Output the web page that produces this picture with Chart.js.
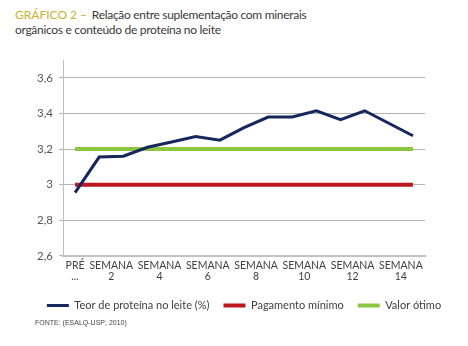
<!DOCTYPE html>
<html lang="pt">
<head>
<meta charset="utf-8">
<title>Gráfico 2</title>
<script src="https://cdn.jsdelivr.net/npm/chart.js@4/dist/chart.umd.min.js"></script>
<style>
  html, body { margin: 0; padding: 0; background: #fff; }
  body { width: 468px; height: 346px; position: relative; overflow: hidden; font-family: Lato, sans-serif; }
  #titulo { position: absolute; left: 15px; top: 8px; font-size: 12px; line-height: 14.5px; color: #3a3a3a; letter-spacing: -0.3px; }
  #titulo .num { color: #c8b22e; margin-right: 2px; letter-spacing: 0; }
  #grafico { position: absolute; left: 20px; top: 46px; }
  #fonte { position: absolute; left: 35px; top: 319px; font-family: "Liberation Sans Narrow", sans-serif; font-size: 7px; color: #444; }
</style>
</head>
<body>
<div id="titulo"><span class="num">GRÁFICO 2 –</span> Relação entre suplementação com minerais<br>orgânicos e conteúdo de proteína no leite</div>
<canvas id="grafico" width="448" height="275"></canvas>
<div id="fonte">FONTE: (ESALQ-USP; 2010)</div>
<script>
// semanas do experimento (PRÉ + semanas 1 a 14)
const semanas = ["PRÉ", "SEMANA 1", "SEMANA 2", "SEMANA 3", "SEMANA 4", "SEMANA 5", "SEMANA 6", "SEMANA 7",
    "SEMANA 8", "SEMANA 9", "SEMANA 10", "SEMANA 11", "SEMANA 12", "SEMANA 13", "SEMANA 14"];

// teor de proteína no leite (%)
const proteina = [2.955, 3.155, 3.16, 3.21, 3.24, 3.27, 3.25, 3.32, 3.38, 3.38, 3.415, 3.365, 3.415, 3.345, 3.275];

// linhas de referência
const pagamentoMinimo = 3.0;
const valorOtimo = 3.2;

// rótulos do eixo x (posição na escala e texto)
const xTickPos = [0, 1.5, 3.5, 5.5, 7.5, 9.5, 11.5, 13.5];
const xTickLabels = [["PRÉ", "..."], ["SEMANA", "2"], ["SEMANA", "4"], ["SEMANA", "6"],
    ["SEMANA", "8"], ["SEMANA", "10"], ["SEMANA", "12"], ["SEMANA", "14"]];

// marcas do eixo y
const yTicks = [2.6, 2.8, 3.0, 3.2, 3.4, 3.6];

const fonte = "Lato, sans-serif";
const pontos = (valores) => valores.map((v, i) => ({ x: i, y: v }));

const ctx = document.getElementById("grafico").getContext("2d");

new Chart(ctx, {
    type: "line",
    data: {
        datasets: [
            {
                label: "Teor de proteína no leite (%)",
                data: pontos(proteina),
                borderColor: "#15275c",
                backgroundColor: "#15275c",
                borderWidth: 3,
            },
            {
                label: "Pagamento mínimo",
                data: pontos(semanas.map(() => pagamentoMinimo)),
                borderColor: "#bd1620",
                backgroundColor: "#bd1620",
                borderWidth: 4,
            },
            {
                label: "Valor ótimo",
                data: pontos(semanas.map(() => valorOtimo)),
                borderColor: "#8cc53f",
                backgroundColor: "#8cc53f",
                borderWidth: 4,
            },
        ],
    },
    options: {
        responsive: false,
        animation: false,
        devicePixelRatio: 1,
        layout: { padding: { top: 14 } },
        elements: {
            point: { radius: 0 },
            line: { tension: 0, borderCapStyle: "butt" },
        },
        plugins: {
            tooltip: { enabled: false },
            legend: {
                position: "bottom",
                labels: {
                    usePointStyle: true,
                    pointStyle: "line",
                    pointStyleWidth: 22,
                    padding: 14,
                    color: "#404040",
                    font: { family: fonte, size: 11 },
                },
            },
        },
        scales: {
            x: {
                type: "linear",
                min: -0.5,
                max: 14.5,
                afterBuildTicks: (scale) => {
                    scale.ticks = xTickPos.map((v) => ({ value: v }));
                },
                grid: { display: false, drawTicks: false },
                border: { display: true, color: "#c2c2c2", width: 2 },
                ticks: {
                    autoSkip: false,
                    maxRotation: 0,
                    padding: 4,
                    color: "#404040",
                    font: { family: fonte, size: 10.5, lineHeight: 1.05 },
                    callback: (value) => xTickLabels[xTickPos.indexOf(value)],
                },
            },
            y: {
                min: 2.6,
                max: 3.7,
                afterBuildTicks: (scale) => {
                    scale.ticks = yTicks.map((v) => ({ value: v }));
                },
                afterFit: (scale) => { scale.width = 43; },
                grid: { color: "#b5b5b5", lineWidth: 1, tickLength: 4 },
                border: { color: "#bdbdbd", width: 1 },
                ticks: {
                    padding: 6,
                    color: "#555",
                    font: { family: fonte, size: 11.5 },
                    callback: (value) => String(value).replace(".", ","),
                },
            },
            // eixo vazio à direita, só para reservar a margem
            direita: {
                position: "right",
                min: 2.6,
                max: 3.7,
                afterFit: (scale) => { scale.width = 43; },
                grid: { display: false, drawTicks: false },
                border: { display: false },
                ticks: { display: false },
            },
        },
    },
});
</script>
</body>
</html>
